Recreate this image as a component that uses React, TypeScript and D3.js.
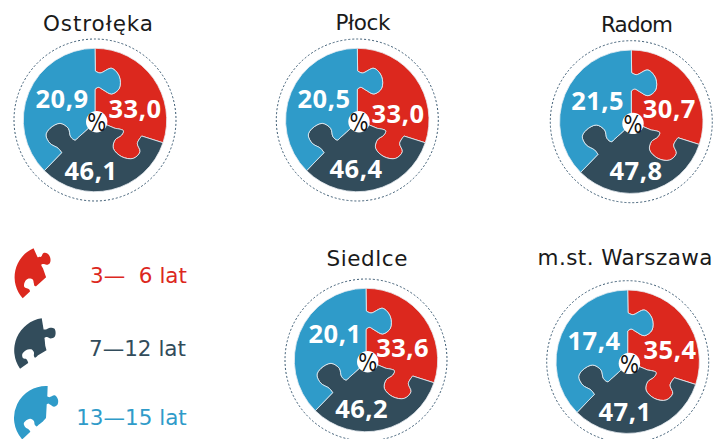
import React from "react";
import * as d3 from "d3";

const cities = ["Ostrołęka", "Płock", "Radom", "Siedlce", "m.st. Warszawa"];
const youngValues = ["33,0", "33,0", "30,7", "33,6", "35,4"];
const midValues = ["46,1", "46,4", "47,8", "46,2", "47,1"];
const oldValues = ["20,9", "20,5", "21,5", "20,1", "17,4"];
const legendLabels = ["3—  6 lat", "7—12 lat", "13—15 lat"];
const colors = ["#dc281e", "#324c5b", "#2f9bc9"];

// layout
const W = 717, H = 439, FONT = "'DejaVu Sans', sans-serif", LABEL_FONT = "'Open Sans', sans-serif";
const pieCenters: [number, number][] = [[95, 120], [357.3, 120], [631.3, 121.7], [366, 360], [627.7, 361.7]];
const titlePos: [number, number][] = [[98, 31], [363, 30], [637, 32], [367, 266], [625, 265]];
const titleWidths = [110, 55, 72, 81, 175];
const youngPos: [number, number][] = [[135, 107.5], [398, 112.5], [669.3, 107.5], [402.7, 346.7], [670, 349]];
const midPos: [number, number][] = [[91, 170], [356, 168], [636, 170.3], [361.7, 408], [625, 410.7]];
const oldPos: [number, number][] = [[62, 98], [324, 97.5], [597.7, 100], [335, 333], [594, 340]];
const legendPieces = [
  { cx: 46.1, cy: 277.2, r: 31.5, rot: 228 },
  { cx: 46.5, cy: 350.3, r: 32.3, rot: 126.5 },
  { cx: 46, cy: 418, r: 32, rot: 3 },
];
const legendText: [number, number][] = [[138.5, 283], [137.5, 356], [131.5, 425]];

// puzzle seams: reference-pixel outline at 3x, radius 215
const BASE = 215;
const seamA: [number, number][] = [[1, -147], [15, -141], [50, -155], [73, -130], [73, -95], [50, -78], [25, -90], [10, -98], [0, -92]];
const seamB: [number, number][] = [[140, 48], [127, 70], [135, 95], [115, 115], [80, 110], [55, 85], [60, 60], [80, 45], [85, 32], [60, 25]];
const seamC: [number, number][] = [[-100, 98], [-110, 85], [-135, 70], [-147, 45], [-135, 25], [-105, 10], [-80, 25], [-73, 50], [-60, 60], [-50, 52], [-20, 25]];
const arcStops = [-90, 18.5, 135, 270].map((d) => (d * Math.PI) / 180);

function seam(points: [number, number][], angle: number, r: number, reverse: boolean): string {
  const s = d3.scaleLinear().domain([0, BASE]).range([0, r]);
  const pts = (reverse ? [...points].reverse() : points).map(([x, y]) => [s(x), s(y)] as [number, number]);
  const outer = `${r * Math.cos(angle)},${r * Math.sin(angle)}`;
  const curve = d3.line().curve(d3.curveCatmullRom.alpha(0.5))(pts) as string;
  const body = "L" + curve.slice(1);
  return reverse ? `L0,0${body}L${outer}` : `${body}L0,0`;
}

function piece(i: number, r: number): string {
  const p = d3.path();
  const a0 = arcStops[i], a1 = arcStops[i + 1];
  p.moveTo(r * Math.cos(a0), r * Math.sin(a0));
  p.arc(0, 0, r, a0, a1, false);
  const seams = [seamA, seamB, seamC];
  return p.toString() + seam(seams[(i + 1) % 3], a1, r, false) + seam(seams[i], a0, r, true) + "Z";
}

const labelStyle = { fontFamily: LABEL_FONT, fontWeight: 700, fontSize: 25.5, letterSpacing: 0.5, fill: "#fff", textAnchor: "middle" as const, dominantBaseline: "central" as const };

export default function App() {
  const R = 71.7;
  return (
    <svg width={W} height={H} viewBox={`0 0 ${W} ${H}`} style={{ position: "absolute", left: 0, top: 0, background: "#fff" }}>
      {cities.map((c, k) => (
        <g key={c}>
          <text x={titlePos[k][0]} y={titlePos[k][1]} textAnchor="middle" fontFamily={FONT} fontSize={21.5} textLength={titleWidths[k]} lengthAdjust="spacing" fill="#1a1a1a">{c}</text>
          <g transform={`translate(${pieCenters[k][0]},${pieCenters[k][1]})`}>
            <circle r={81} fill="none" stroke="#3b5a72" strokeWidth={1} strokeDasharray="2 2" />
            {colors.map((col, i) => (
              <path key={i} d={piece(i, R)} fill={col} stroke="#e8eef2" strokeWidth={0.8} />
            ))}
            <circle cx={1.7} cy={1.7} r={10.7} fill="#fff" />
            <text transform="translate(1.7,2) scale(0.8,1)" textAnchor="middle" dominantBaseline="central" fontFamily={FONT} fontSize={25} fill="#111">%</text>
          </g>
          <text x={youngPos[k][0]} y={youngPos[k][1]} {...labelStyle}>{youngValues[k]}</text>
          <text x={midPos[k][0]} y={midPos[k][1]} {...labelStyle}>{midValues[k]}</text>
          <text x={oldPos[k][0]} y={oldPos[k][1]} {...labelStyle}>{oldValues[k]}</text>
        </g>
      ))}
      {legendLabels.map((l, i) => (
        <g key={l}>
          <g transform={`translate(${legendPieces[i].cx},${legendPieces[i].cy}) rotate(${legendPieces[i].rot})`}>
            <path d={piece(i, legendPieces[i].r)} fill={colors[i]} />
          </g>
          <text x={legendText[i][0]} y={legendText[i][1]} textAnchor="middle" fontFamily={FONT} fontSize={21.5} fill={colors[i]} style={{ whiteSpace: "pre" }}>{l}</text>
        </g>
      ))}
    </svg>
  );
}
